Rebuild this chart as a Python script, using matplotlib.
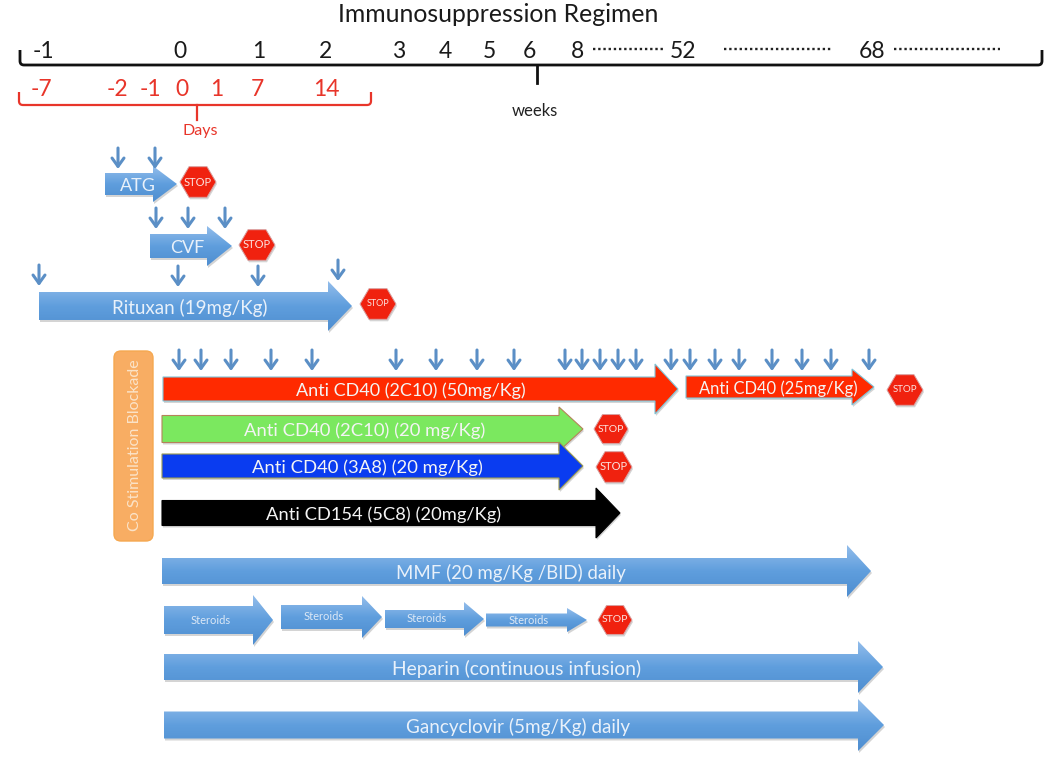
# ============================================================
# Imports
# ============================================================
import numpy as np
import matplotlib
matplotlib.use("Agg")
import matplotlib.pyplot as plt
from matplotlib.patches import Polygon, FancyBboxPatch, PathPatch
from matplotlib.colors import LinearSegmentedColormap
from matplotlib.path import Path

plt.rcParams['font.family'] = ['Lato', 'DejaVu Sans']

# ============================================================
# Data (in picture units)
# ============================================================
week_labels = ["-1", "0", "1", "2", "3", "4", "5", "6", "8", "52", "68"]
week_x = [43, 180, 259, 325, 399, 445, 489, 529, 578, 683, 872]

day_labels = ["-7", "-2", "-1", "0", "1", "7", "14"]
day_x = [41, 117, 150, 182, 217, 257, 326]

dotted_start = [593, 724, 894]
dotted_end = [663, 832, 1000]

# big gradient arrows
blue_labels = ["ATG", "CVF", "Rituxan (19mg/Kg)", "MMF (20 mg/Kg /BID) daily",
               "Heparin (continuous infusion)", "Gancyclovir (5mg/Kg) daily"]
blue_start = [105, 150, 39, 162, 164, 164]
blue_end = [177, 232, 352, 871, 883, 884]
blue_y = [184, 246, 306, 571, 667, 725]
blue_body = [11, 12, 14, 13, 13, 13.5]
blue_head = [18, 20, 25, 26, 26, 26]
blue_len = [24, 25, 24, 24, 25, 26]
blue_label_x = [138, 187, 190, 511, 517, 518]
blue_size = [13, 13, 13.5, 13.4, 13.9, 13.6]

steroid_start = [164, 281, 385, 486]
steroid_end = [273, 382, 484, 587]
steroid_y = [620, 617, 619, 620]
steroid_body = [14, 12, 9, 6.5]
steroid_head = [25, 21, 17, 12]

solid_labels = ["Anti CD40 (2C10) (50mg/Kg)", "Anti CD40 (25mg/Kg)",
                "Anti CD40 (2C10) (20 mg/Kg)", "Anti CD40 (3A8) (20 mg/Kg)",
                "Anti CD154 (5C8) (20mg/Kg)"]
solid_start = [163, 686, 162, 162, 162]
solid_end = [678, 874, 583, 583, 620]
solid_y = [389, 387, 429, 466, 513]
solid_body = [12, 11, 13.5, 12, 12.5]
solid_head = [25, 18, 22, 24, 25]
solid_len = [23, 22, 24, 24, 24]
solid_color = ["#FF2A00", "#FF2A00", "#7BE85F", "#0A3CF0", "#000000"]
solid_edge = ["#7FC4D8", "#7FC4D8", "#B5835A", "#9A9A50", "#000000"]
solid_label_x = [411, 778, 365, 367, 384]
solid_size = [13, 11.9, 13.3, 13.3, 13.2]

stop_x = [198, 257, 378, 905, 611, 614, 615]
stop_y = [182, 245, 304, 390, 429, 467, 620]
stop_w = [18, 18, 18, 18, 17, 18, 17]
stop_font = [8, 8, 6.5, 7, 7.5, 8, 7.5]

dose_x = [118, 155, 156, 188, 225, 39, 178, 258, 338,
          179, 201, 231, 271, 312, 396, 436, 477, 514,
          565, 582, 600, 618, 636, 671, 690, 715, 739,
          772, 802, 831, 869]
dose_y = [148, 148, 208, 208, 208, 265, 266, 266, 260,
          350, 350, 350, 350, 350, 350, 350, 350, 350,
          350, 350, 350, 350, 350, 350, 350, 350, 350,
          350, 350, 350, 350]

# ============================================================
# Figure
# ============================================================
fig = plt.figure(figsize=(10.5, 7.57), dpi=100)
ax = fig.add_axes([0, 0, 1, 1])
ax.set_xlim(0, 1050)
ax.set_ylim(757, 0)
ax.axis("off")

BLUE = LinearSegmentedColormap.from_list("blue", ["#93BDEB", "#5F9EDD", "#4F8ED0"])


# ============================================================
# Helper functions
# ============================================================
def arrow_pts(x0, x1, y, body, head, length):
    return [(x0, y - body), (x1 - length, y - body), (x1 - length, y - head), (x1, y),
            (x1 - length, y + head), (x1 - length, y + body), (x0, y + body)]


def shadow(pts):
    ax.add_patch(Polygon([(a + 1, b + 2) for a, b in pts], closed=True,
                         fc="#B8B8B8", ec="none", alpha=0.6, zorder=1))


def gradient_arrow(x0, x1, y, body, head, length):
    pts = arrow_pts(x0, x1, y, body, head, length)
    shadow(pts)
    patch = Polygon(pts, closed=True, fc="none", ec="none", zorder=2)
    ax.add_patch(patch)
    img = ax.imshow(np.linspace(0, 1, 64).reshape(-1, 1), cmap=BLUE, aspect="auto",
                    extent=(x0, x1, y + head, y - head), zorder=2)
    img.set_clip_path(patch)


def bracket(x0, x1, y, tick_x, tick_y, top, color, lw):
    r = 4
    verts = [(x0, top), (x0, y - r), (x0, y), (x0 + r, y), (x1 - r, y), (x1, y), (x1, y - r), (x1, top)]
    codes = [Path.MOVETO, Path.LINETO, Path.CURVE3, Path.CURVE3,
             Path.LINETO, Path.CURVE3, Path.CURVE3, Path.LINETO]
    ax.add_patch(PathPatch(Path(verts, codes), fc="none", ec=color, lw=lw, zorder=3))
    ax.plot([tick_x, tick_x], [y, tick_y], color=color, lw=lw, zorder=3)


# ============================================================
# Top scale
# ============================================================
ax.text(498, 14, "Immunosuppression Regimen", ha="center", va="center",
        fontsize=17.8, color="#1a1a1a")

bracket(20, 1042, 65, 537, 83, 50, "#111111", 2)
bracket(19, 371, 105, 197, 120, 92, "#E8352A", 1.6)

for lab, x in zip(week_labels, week_x):
    ax.text(x, 51, lab, ha="center", va="center", fontsize=16.5, color="#1a1a1a")
for lab, x in zip(day_labels, day_x):
    ax.text(x, 90, lab, ha="center", va="center", fontsize=16.5, color="#E8352A")
for x0, x1 in zip(dotted_start, dotted_end):
    ax.plot([x0, x1], [49, 49], color="#222222", lw=1.7, linestyle=(0, (1, 1.2)))

ax.text(200, 131, "Days", ha="center", va="center", fontsize=11.5, color="#E8352A")
ax.text(535, 111, "weeks", ha="center", va="center", fontsize=12, color="#222222")

# ============================================================
# Co stimulation box
# ============================================================
ax.add_patch(FancyBboxPatch((116, 353), 35, 186, boxstyle="round,pad=2,rounding_size=7",
                            fc="#F8AD63", ec="#F5A850", lw=1, zorder=2))
ax.text(135, 445, "Co Stimulation Blockade", rotation=90, ha="center", va="center",
        fontsize=11.5, color="#FBE3C8", zorder=4)

# ============================================================
# Arrows
# ============================================================
for lab, x0, x1, y, b, h, l, tx, s in zip(blue_labels, blue_start, blue_end, blue_y,
                                          blue_body, blue_head, blue_len, blue_label_x, blue_size):
    gradient_arrow(x0, x1, y, b, h, l)
    ax.text(tx, y + 2, lab, ha="center", va="center", fontsize=s, color="#E9F1FA", zorder=4)

for x0, x1, y, b, h in zip(steroid_start, steroid_end, steroid_y, steroid_body, steroid_head):
    gradient_arrow(x0, x1, y, b, h, 20)
    ax.text((x0 + x1 - 16) / 2, y, "Steroids", ha="center", va="center",
            fontsize=8, color="#DCE8F6", zorder=4)

for lab, x0, x1, y, b, h, l, c, e, tx, s in zip(solid_labels, solid_start, solid_end, solid_y,
                                                solid_body, solid_head, solid_len, solid_color,
                                                solid_edge, solid_label_x, solid_size):
    pts = arrow_pts(x0, x1, y, b, h, l)
    shadow(pts)
    ax.add_patch(Polygon(pts, closed=True, fc=c, ec=e, lw=0.8, zorder=2))
    ax.text(tx, y + 2, lab, ha="center", va="center", fontsize=s, color="#F4F4F4", zorder=4)

# ============================================================
# Stop signs
# ============================================================
for x, y, w, f in zip(stop_x, stop_y, stop_w, stop_font):
    h = 0.85 * w
    hexagon = [(x - w, y), (x - w / 2, y - h), (x + w / 2, y - h),
               (x + w, y), (x + w / 2, y + h), (x - w / 2, y + h)]
    shadow(hexagon)
    ax.add_patch(Polygon(hexagon, closed=True, fc="#F0220F", ec="#D8A0A0", lw=0.7, zorder=2))
    ax.text(x, y, "STOP", ha="center", va="center", fontsize=f, color="#FBE3DF", zorder=4)

# ============================================================
# Dose arrows
# ============================================================
for x, y in zip(dose_x, dose_y):
    ax.annotate("", xy=(x, y + 21), xytext=(x, y),
                arrowprops=dict(arrowstyle="->,head_length=0.6,head_width=0.43",
                                color="#5B8FC6", lw=2.2, shrinkA=0, shrinkB=0), zorder=3)

fig.savefig("out.png", dpi=100)
